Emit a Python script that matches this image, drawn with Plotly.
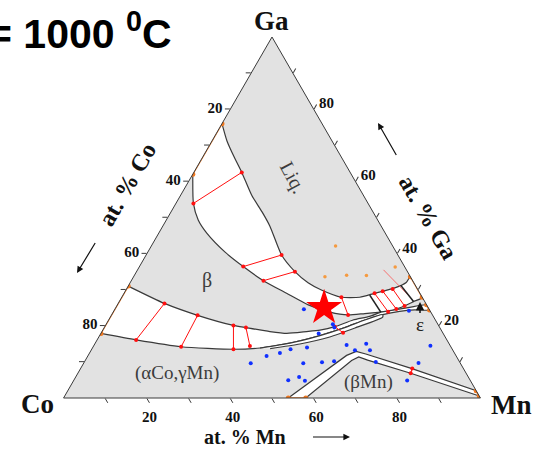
import plotly.graph_objects as go

# ---------------- data (at.%) ----------------
# Liquid-phase boundary (Co-Ga edge -> Ga-Mn edge)
liq_ga = [76.0, 71.2, 66.8, 62.5, 56.0, 51.5, 47.6, 39.6, 35.0, 31.9, 29.9, 27.9, 27.9, 29.0, 30.5, 32.0, 33.6]
liq_mn = [0.0, 3.6, 7.5, 11.5, 17.2, 21.9, 25.7, 32.5, 38.0, 42.7, 46.9, 52.7, 57.1, 60.1, 64.2, 66.2, 66.4]
# epsilon upper boundary (Ga-Mn edge -> beta tip)
eps_up_ga = [27.9, 26.7, 25.5, 24.65, 23.9, 23.8]
eps_up_mn = [72.1, 70.6, 69.05, 67.5, 65.9, 64.2]
# beta upper boundary (beta tip -> Co-Ga edge)
beta_up_ga = [23.8, 23.4, 23.0, 23.8, 25.8, 29.0, 32.5, 36.4, 40.4, 45.6, 49.3, 53.9, 62.0]
beta_up_mn = [64.2, 60.55, 56.75, 52.0, 45.8, 39.0, 31.7, 24.9, 18.55, 11.6, 7.65, 4.2, 0.0]
# beta lower boundary (Co-Ga edge -> beta tip)
beta_lo_ga = [31.0, 26.2, 22.9, 20.1, 19.5, 18.4, 17.9, 18.4, 18.8, 19.75, 21.6, 22.6, 23.8]
beta_lo_mn = [0.0, 11.1, 20.7, 30.7, 34.0, 40.3, 44.6, 49.1, 52.1, 55.2, 58.65, 62.1, 64.2]
# epsilon lower boundary (beta tip -> Ga-Mn edge)
eps_lo_ga = [23.8, 24.4, 25.1, 25.8]
eps_lo_mn = [64.2, 67.2, 70.45, 74.2]
# (aCo,gMn) boundary (Ga-Mn edge -> Co-Ga edge)
fcc_ga = [24.4, 24.4, 24.0, 23.1, 21.6, 19.5, 17.3, 15.2, 13.85, 13.5, 14.2, 16.1, 17.9]
fcc_mn = [75.6, 72.0, 68.6, 65.0, 61.45, 57.7, 52.85, 46.7, 40.2, 34.0, 21.1, 9.35, 0.0]
# thin band under the (aCo,gMn) boundary
sliver_ga = [13.85, 15.2, 17.3, 19.5, 21.6, 23.1, 22.4, 19.4, 16.9, 14.96, 13.7]
sliver_mn = [40.2, 46.7, 52.85, 57.7, 61.45, 65.0, 65.35, 60.2, 55.4, 49.2, 42.7]
# bMn two-phase band: outer line then inner line (reversed)
bmn_out_ga = [0.0, 11.8, 12.9, 12.2, 8.2, 2.0]
bmn_out_mn = [53.9, 62.0, 63.75, 66.4, 79.3, 98.0]
bmn_in_ga = [0.55, 6.85, 10.5, 11.4, 10.4, 0.0]
bmn_in_mn = [99.45, 79.85, 67.7, 65.1, 63.9, 58.1]

# tie lines: (Ga1, Mn1, Ga2, Mn2)
tie_lines = [
    (62.5, 11.5, 53.9, 4.2),
    (39.6, 32.5, 36.4, 24.9),
    (35.0, 38.0, 32.5, 31.7),
    (27.9, 52.7, 23.0, 56.75),
    (29.0, 60.1, 23.9, 65.9),
    (29.6, 61.75, 24.65, 67.5),
    (30.2, 63.85, 25.5, 69.05),
    (26.2, 11.1, 16.1, 9.35),
    (22.9, 20.7, 14.2, 21.1),
    (20.1, 30.7, 13.5, 34.0),
    (19.5, 34.0, 14.4, 37.5),
    (19.75, 55.2, 18.1, 58.0),
    (8.2, 79.55, 6.85, 79.85),
]
thin_tie = (35.5, 59.0, 28.1, 68.95)
# tie-triangle edges
tri_edges = [(28.5, 59.2, 23.8, 64.2), (31.2, 65.3, 26.7, 70.6)]

# binary-edge two-phase segments (Ga1, Mn1, Ga2, Mn2)
edge_segs = [
    (76.0, 0.0, 62.0, 0.0),
    (31.0, 0.0, 17.9, 0.0),
    (33.6, 66.4, 27.9, 72.1),
    (25.8, 74.2, 24.4, 75.6),
    (2.0, 98.0, 0.55, 99.45),
    (0.0, 53.9, 0.0, 58.1),
]

# measured alloys (blue) in solid region
blue_ga = [9.6, 11.6, 12.5, 13.5, 14.0, 24.6, 17.9, 20.4, 19.5, 14.7, 15.0, 13.2, 13.2, 14.5,
           9.6, 9.9, 10.2, 10.0, 9.7, 4.9, 5.8, 4.8, 4.85, 24.2]
blue_mn = [40.1, 42.9, 45.65, 47.7, 51.4, 45.35, 52.25, 54.4, 55.2, 60.55, 65.1, 63.3, 66.9, 80.75,
           52.7, 57.05, 59.8, 69.9, 80.3, 51.45, 53.6, 55.5, 80.0, 70.75]
# alloys in liquid region (orange)
liqpt_ga = [42.1, 33.6, 34.0, 33.9, 36.3]
liqpt_mn = [44.2, 45.9, 50.9, 55.7, 61.4]
# Mn2CoGa composition (star)
star_ga = [25.0]
star_mn = [50.0]

tick_vals = [10, 20, 30, 40, 50, 60, 70, 80, 90]
co_tick_text = ["", "80", "", "60", "", "40", "", "20", ""]   # left edge (Ga axis positions)
mn_tick_text = ["", "80", "", "60", "", "40", "", "20", ""]   # bottom edge (Co axis positions)
ga_tick_text = ["", "80", "", "60", "", "40", "", "20", ""]   # right edge (Mn axis positions)


def co_of(ga, mn):
    return [100 - g - m for g, m in zip(ga, mn)]


GRAY = "#e2e2e2"
LINE = "#3a3a3a"
SERIF = "Liberation Serif"

fig = go.Figure()


def poly(ga, mn, shape="spline"):
    fig.add_trace(go.Scatterternary(
        a=ga, b=co_of(ga, mn), c=mn, mode="lines", fill="toself",
        fillcolor="white", line=dict(color=LINE, width=1.2, shape=shape, smoothing=0.6),
        hoverinfo="skip", showlegend=False))


# two-phase region Liq + beta (+ Liq + eps)
poly(liq_ga + eps_up_ga + beta_up_ga, liq_mn + eps_up_mn + beta_up_mn)
# two-phase region beta + (aCo,gMn)
poly(beta_lo_ga + eps_lo_ga + fcc_ga, beta_lo_mn + eps_lo_mn + fcc_mn)
poly(sliver_ga, sliver_mn)
poly(bmn_out_ga + bmn_in_ga, bmn_out_mn + bmn_in_mn, shape="linear")

# edge segments
for g1, m1, g2, m2 in edge_segs:
    ga, mn = [g1, g2], [m1, m2]
    fig.add_trace(go.Scatterternary(
        a=ga, b=co_of(ga, mn), c=mn, mode="lines+markers",
        line=dict(color="#f07820", width=1.6), marker=dict(color="#f07820", size=5),
        hoverinfo="skip", showlegend=False))

# tie lines
for g1, m1, g2, m2 in tie_lines:
    ga, mn = [g1, g2], [m1, m2]
    fig.add_trace(go.Scatterternary(
        a=ga, b=co_of(ga, mn), c=mn, mode="lines+markers",
        line=dict(color="#ff1010", width=1), marker=dict(color="#ff1010", size=4),
        hoverinfo="skip", showlegend=False))
g1, m1, g2, m2 = thin_tie
fig.add_trace(go.Scatterternary(
    a=[g1, g2], b=co_of([g1, g2], [m1, m2]), c=[m1, m2], mode="lines",
    line=dict(color="#ff4040", width=0.7), hoverinfo="skip", showlegend=False))
for g1, m1, g2, m2 in tri_edges:
    fig.add_trace(go.Scatterternary(
        a=[g1, g2], b=co_of([g1, g2], [m1, m2]), c=[m1, m2], mode="lines",
        line=dict(color="#222", width=1.6), hoverinfo="skip", showlegend=False))

# points
fig.add_trace(go.Scatterternary(
    a=blue_ga, b=co_of(blue_ga, blue_mn), c=blue_mn, mode="markers",
    marker=dict(color="#1030ff", size=4), hoverinfo="skip", showlegend=False))
fig.add_trace(go.Scatterternary(
    a=liqpt_ga, b=co_of(liqpt_ga, liqpt_mn), c=liqpt_mn, mode="markers",
    marker=dict(color="#f59a40", size=3.5), hoverinfo="skip", showlegend=False))
fig.add_trace(go.Scatterternary(
    a=star_ga, b=co_of(star_ga, star_mn), c=star_mn, mode="markers",
    marker=dict(color="#ff0000", size=27, symbol="star", line=dict(width=0)),
    hoverinfo="skip", showlegend=False))

ML, MR, MT, MB = 40, 31, 37, 51
WIDTH, HEIGHT = 535, 449
PW, PH = WIDTH - ML - MR, HEIGHT - MT - MB


def px(x, y):
    return (x - ML) / PW, (HEIGHT - MB - y) / PH


axis_common = dict(
    showgrid=False, linecolor=LINE, linewidth=1, ticks="outside", ticklen=5,
    tickcolor=LINE, tickvals=tick_vals, title=dict(text=""), min=0,
    tickfont=dict(family=SERIF, size=15, color="#111", weight="bold"),
)

annotations = []


def text(t, x, y, size, angle=0, bold=True, color="#111", family=SERIF):
    xp, yp = px(x, y)
    annotations.append(dict(
        text=t, x=xp, y=yp, xref="paper", yref="paper", showarrow=False,
        textangle=angle, xanchor="center", yanchor="middle",
        font=dict(family=family, size=size, color=color, weight="bold" if bold else "normal")))


def arrow(xh, yh, xt, yt, width=1.2):
    xp, yp = px(xh, yh)
    annotations.append(dict(
        text=" ", x=xp, y=yp, xref="paper", yref="paper", showarrow=True,
        ax=xt - xh, ay=yt - yh, arrowhead=2, arrowsize=1.1, arrowwidth=width,
        arrowcolor="#111", font=dict(size=2)))


text("Ga", 271, 21, 27)
text("Co", 37.5, 404, 27)
text("Mn", 511, 405, 27)
text("at. % Co", 127, 185, 24, angle=-60)
text("at. % Ga", 428, 217, 24, angle=60)
text("at. % Mn", 245, 436.5, 20)
text("Liq.", 293, 177, 20, angle=62, bold=False, color="#3c3c3c")
text("β", 207, 280, 20, bold=False, color="#3c3c3c")
text("(αCo,γMn)", 177, 373, 19, bold=False, color="#3c3c3c")
text("(βMn)", 368, 382, 19, bold=False, color="#3c3c3c")
text("ε", 420, 324, 19, bold=False, color="#222")
arrow(77, 273, 97, 240)
arrow(378, 123, 398, 158)
arrow(350, 437, 311, 437)
arrow(420, 302, 420, 316, width=1.5)

xp, yp = px(-14, 31)
annotations.append(dict(
    text="= 1000 <sup>0</sup>C", x=xp, y=yp, xref="paper", yref="paper",
    showarrow=False, xanchor="left", yanchor="middle",
    font=dict(family="Liberation Sans", size=41, color="#000", weight="bold")))

fig.update_layout(
    width=WIDTH, height=HEIGHT, margin=dict(l=ML, r=MR, t=MT, b=MB),
    paper_bgcolor="white", plot_bgcolor="white", showlegend=False,
    ternary=dict(
        sum=100, bgcolor=GRAY,
        aaxis=dict(axis_common, ticktext=co_tick_text),
        baxis=dict(axis_common, ticktext=mn_tick_text),
        caxis=dict(axis_common, ticktext=ga_tick_text),
    ),
    annotations=annotations,
)

fig.write_html("out.html")
